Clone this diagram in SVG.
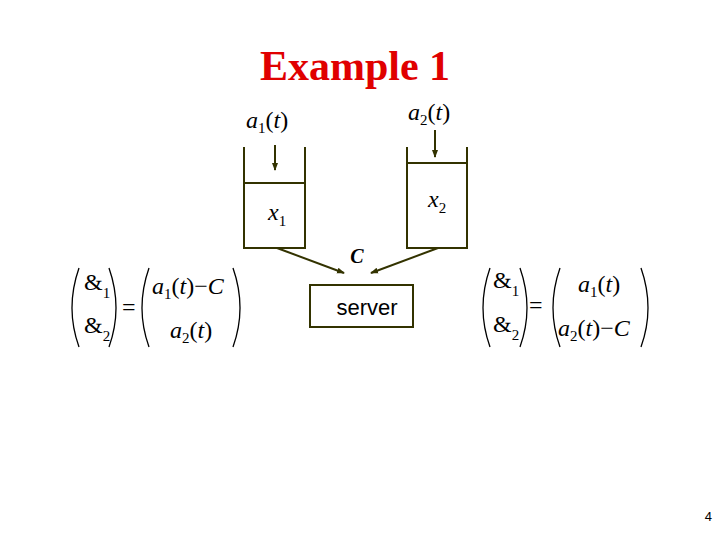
<svg xmlns="http://www.w3.org/2000/svg" width="720" height="540" viewBox="0 0 720 540">
<style>
.m{font-family:"Liberation Serif",serif;font-style:italic;font-size:24px;fill:#000}
.u{font-family:"Liberation Serif",serif;font-size:24px;font-style:normal}
.s{font-size:15px;font-style:normal}
.ln{stroke:#333300;stroke-width:2;fill:none}
.p{stroke:#000;stroke-width:1.3;fill:none}
</style>
<defs><marker id="ah" markerWidth="8" markerHeight="8" refX="7" refY="4" orient="auto" markerUnits="userSpaceOnUse"><path d="M0,1 L8,4 L0,7Z" fill="#333300"/></marker></defs>
<rect width="720" height="540" fill="#fff"/>
<text x="355" y="80" text-anchor="middle" font-family="Liberation Serif,serif" font-weight="bold" font-size="42" fill="#e00000">Example 1</text>
<g id="queue1">
<path class="ln" d="M244,147 V248 H305 V147 M244,183 H305"/>
<text class="m" x="246" y="128">a<tspan class="s" dy="5">1</tspan><tspan dy="-5" class="u">(</tspan>t<tspan class="u">)</tspan></text>
<text class="m" x="268" y="220">x<tspan class="s" dy="6">1</tspan></text>
</g>
<g id="queue2">
<path class="ln" d="M407,147 V248 H467 V147 M407,163 H467"/>
<text class="m" x="408" y="120">a<tspan class="s" dy="5">2</tspan><tspan dy="-5" class="u">(</tspan>t<tspan class="u">)</tspan></text>
<text class="m" x="428" y="207">x<tspan class="s" dy="6">2</tspan></text>
</g>
<g id="server">
<rect class="ln" x="310" y="285" width="103" height="42"/>
<text x="367" y="315" text-anchor="middle" font-family="Liberation Sans,sans-serif" font-size="22">server</text>
</g>
<text x="357" y="263" text-anchor="middle" font-family="Liberation Serif,serif" font-weight="bold" font-style="italic" font-size="20">C</text>
<g id="connectors">
<line class="ln" x1="275" y1="145" x2="275" y2="170" stroke-width="1.3" marker-end="url(#ah)"/>
<line class="ln" x1="435" y1="130" x2="435" y2="157" stroke-width="1.3" marker-end="url(#ah)"/>
<line class="ln" x1="277" y1="248" x2="344" y2="273" marker-end="url(#ah)"/>
<line class="ln" x1="438" y1="248" x2="371" y2="273" marker-end="url(#ah)"/>
</g>
<g id="eq1">
<path class="p" d="M79,268 Q65,308 79,347 M109,268 Q123,308 109,347 M149,268 Q135,308 149,347 M233,268 Q247,308 233,347"/>
<text class="u" x="84" y="290">&amp;<tspan class="s" dy="8">1</tspan></text>
<text class="u" x="84" y="333">&amp;<tspan class="s" dy="8">2</tspan></text>
<text class="u" x="122" y="315">=</text>
<text class="m" x="152" y="294">a<tspan class="s" dy="5">1</tspan><tspan dy="-5" class="u">(</tspan>t<tspan class="u">)−</tspan>C</text>
<text class="m" x="170" y="338">a<tspan class="s" dy="5">2</tspan><tspan dy="-5" class="u">(</tspan>t<tspan class="u">)</tspan></text>
</g>
<g id="eq2">
<path class="p" d="M490,268 Q476,308 490,347 M520,268 Q534,308 520,347 M560,268 Q546,308 560,347 M641,268 Q655,308 641,347"/>
<text class="u" x="493" y="288">&amp;<tspan class="s" dy="8">1</tspan></text>
<text class="u" x="493" y="332">&amp;<tspan class="s" dy="8">2</tspan></text>
<text class="u" x="529" y="313">=</text>
<text class="m" x="578" y="292">a<tspan class="s" dy="5">1</tspan><tspan dy="-5" class="u">(</tspan>t<tspan class="u">)</tspan></text>
<text class="m" x="558" y="336">a<tspan class="s" dy="5">2</tspan><tspan dy="-5" class="u">(</tspan>t<tspan class="u">)−</tspan>C</text>
</g>
<text x="712" y="521" text-anchor="end" font-family="Liberation Sans,sans-serif" font-size="13">4</text>
</svg>
